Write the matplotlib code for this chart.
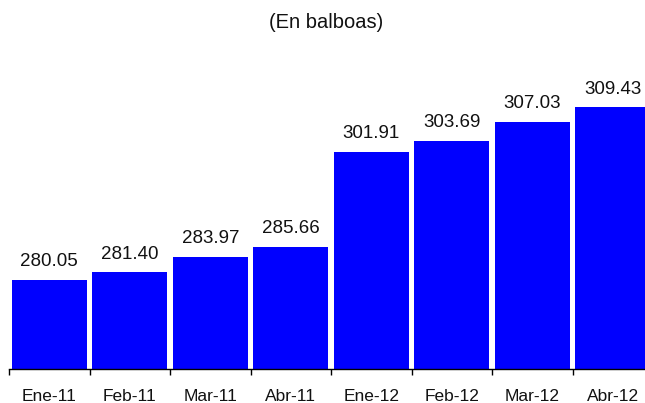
import matplotlib.pyplot as plt
import numpy as np

plt.rcParams["font.family"] = ["Liberation Sans", "DejaVu Sans"]

categories = ["Ene-11", "Feb-11", "Mar-11", "Abr-11", "Ene-12", "Feb-12", "Mar-12", "Abr-12"]
values = [280.05, 281.40, 283.97, 285.66, 301.91, 303.69, 307.03, 309.43]

fig = plt.figure(figsize=(6.45, 4.03), dpi=100)
ax = fig.add_axes([9 / 645, 34 / 403, 636 / 645, 294.4 / 403])

x = np.arange(len(categories))
ax.bar(x, values, width=0.93, color="#0000FF", bottom=0)
ax.set_ylim(265, 315)
ax.set_xlim(-0.5, 7.4)

# value labels above each bar
for xi, v in zip(x, values):
    ax.annotate(f"{v:.2f}", (xi, v), xytext=(0, 10), textcoords="offset points",
                ha="center", va="baseline", fontsize=13.5, color="#111111")

# ticks between categories, labels centred under bars
ax.set_xticks(np.arange(-0.5, 7.5, 1.0))
ax.set_xticklabels([])
ax.set_xticks(x, minor=True)
ax.set_xticklabels(categories, minor=True, fontsize=12.5, color="#111111")
ax.tick_params(axis="x", which="major", direction="out", length=4, width=1, color="black")
ax.tick_params(axis="x", which="minor", length=0, pad=14.5)
ax.set_yticks([])
for s in ["left", "right", "top"]:
    ax.spines[s].set_visible(False)
ax.spines["bottom"].set_color("black")
ax.spines["bottom"].set_linewidth(1)

fig.text(0.505, 1 - 22 / 403, "(En balboas)", ha="center", va="center", fontsize=14.5, color="#111111")

fig.savefig("out.png", dpi=100)
